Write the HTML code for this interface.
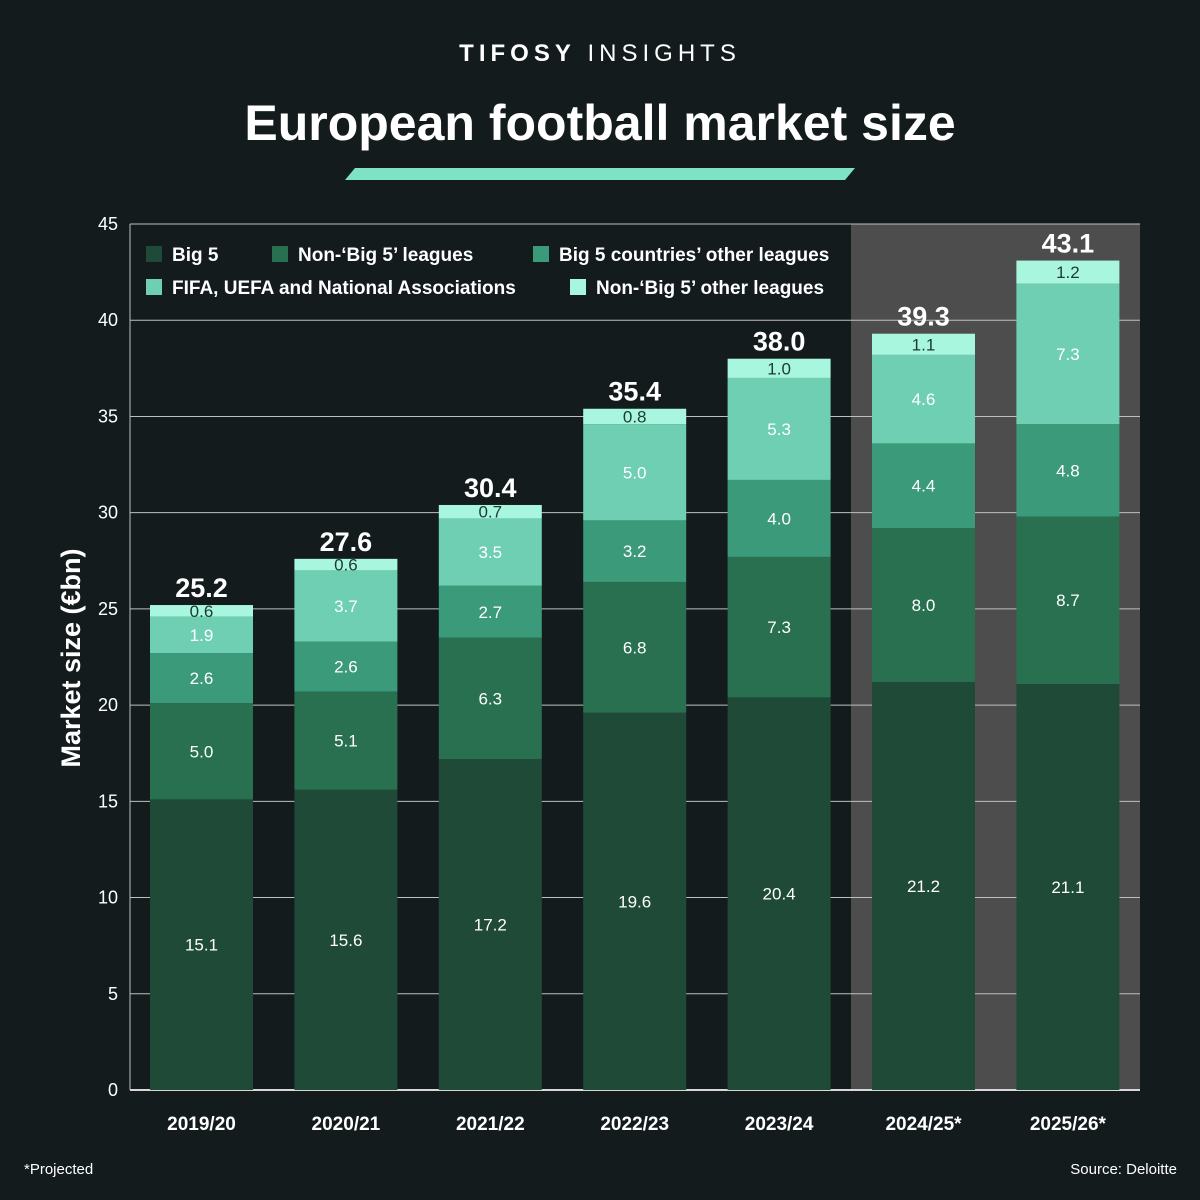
<!DOCTYPE html>
<html><head><meta charset="utf-8"><style>
html,body{margin:0;padding:0;background:#131b1d;}
svg{display:block;font-family:"Liberation Sans",sans-serif;}
</style></head><body>
<svg id="chart" width="1200" height="1200" viewBox="0 0 1200 1200" xmlns="http://www.w3.org/2000/svg">
<rect x="0" y="0" width="1200" height="1200" fill="#131b1d"/>
<text x="600" y="61" text-anchor="middle" fill="#ffffff" font-size="24" letter-spacing="5"><tspan font-weight="bold">TIFOSY</tspan> INSIGHTS</text>
<text x="600" y="140" text-anchor="middle" fill="#ffffff" font-size="50" font-weight="bold">European football market size</text>
<polygon points="355,168 855,168 845,180 345,180" fill="#7de3c2"/>
<rect x="851" y="224" width="289" height="866" fill="#4d4d4d"/>
<g id="grid"></g>
<g id="bars"></g>
<text transform="translate(80,658) rotate(-90)" text-anchor="middle" fill="#ffffff" font-size="27" font-weight="bold">Market size (€bn)</text>
<g id="legend"></g>
<text x="24" y="1174" fill="#ffffff" font-size="15">*Projected</text>
<text x="1177" y="1174" text-anchor="end" fill="#ffffff" font-size="15">Source: Deloitte</text>
</svg>
<script>
const categories = ["2019/20","2020/21","2021/22","2022/23","2023/24","2024/25*","2025/26*"];
const big5 = [15.1,15.6,17.2,19.6,20.4,21.2,21.1];
const nonBig5 = [5.0,5.1,6.3,6.8,7.3,8.0,8.7];
const big5Other = [2.6,2.6,2.7,3.2,4.0,4.4,4.8];
const fifa = [1.9,3.7,3.5,5.0,5.3,4.6,7.3];
const nonBig5Other = [0.6,0.6,0.7,0.8,1.0,1.1,1.2];
const totals = [25.2,27.6,30.4,35.4,38.0,39.3,43.1];
const yTicks = [0,5,10,15,20,25,30,35,40,45];
const seriesNames = ["Big 5","Non-‘Big 5’ leagues","Big 5 countries’ other leagues","FIFA, UEFA and National Associations","Non-‘Big 5’ other leagues"];

const NS="http://www.w3.org/2000/svg";
const colors=["#1e4a37","#28704f","#3b9a7a","#6fcfb2","#a9f6df"];
const labelColors=["#ffffff","#ffffff","#ffffff","#ffffff","#1d3a30"];
const y0=1090, unit=(1090-224)/45;
function yScale(v){return y0-v*unit;}
function xScale(i){return 150+i*144.4;}
const bw=103;
function mk(tag,attrs,parent){const e=document.createElementNS(NS,tag);for(const k in attrs)e.setAttribute(k,attrs[k]);parent.appendChild(e);return e;}
const grid=document.getElementById('grid');
yTicks.forEach(t=>{
  const l=mk('line',{x1:130,x2:1140,y1:yScale(t),y2:yScale(t),stroke:t===0?'#d8d8d8':'#bfbfbf','stroke-width':t===0?2:1},grid);
  
  
  const tx=mk('text',{x:118,y:yScale(t)+6,'text-anchor':'end',fill:'#ffffff','font-size':18},grid);
  tx.textContent=t;
  
  
});
const ax=mk('line',{x1:130,x2:130,y1:224,y2:1090,stroke:'#bfbfbf','stroke-width':1},grid);


const bars=document.getElementById('bars');
const series=[big5,nonBig5,big5Other,fifa,nonBig5Other];
categories.forEach((c,i)=>{
  let acc=0;
  const x=xScale(i);
  series.forEach((s,k)=>{
    const v=s[i];
    const r=mk('rect',{x:x,y:yScale(acc+v),width:bw,height:v*unit,fill:colors[k]},bars);
    
    
    const t=mk('text',{x:x+bw/2,y:yScale(acc+v/2)+6,'text-anchor':'middle',fill:labelColors[k],'font-size':17},bars);
    t.textContent=v.toFixed(1);
    
    
    acc+=v;
  });
  const tt=mk('text',{x:x+bw/2,y:yScale(totals[i])-8,'text-anchor':'middle',fill:'#ffffff','font-size':27,'font-weight':'bold'},bars);
  tt.textContent=totals[i].toFixed(1);
  
  
  const xl=mk('text',{x:x+bw/2,y:1130,'text-anchor':'middle',fill:'#ffffff','font-size':19,'font-weight':'bold'},bars);
  xl.textContent=c;
  
  
});
const legend=document.getElementById('legend');
const legPos=[[146,254],[272,254],[533,254],[146,287],[570,287]];
seriesNames.forEach((n,k)=>{
  const [lx,ly]=legPos[k];
  const g=mk('g',{},legend);
  
  
  mk('rect',{x:lx,y:ly-8,width:16,height:16,fill:colors[k]},g);
  const t=mk('text',{x:lx+26,y:ly+7,fill:'#ffffff','font-size':19,'font-weight':'bold'},g);
  t.textContent=n;
});
</script>
</body></html>
